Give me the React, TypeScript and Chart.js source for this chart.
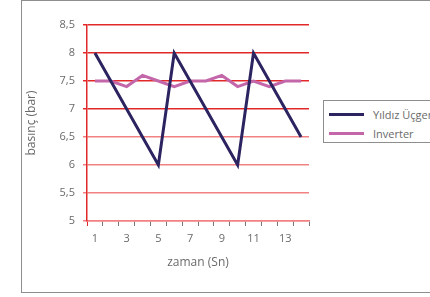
import React, { useEffect, useRef } from "react";
import { Chart, registerables } from "chart.js";

Chart.register(...registerables);

const categories = ["1", "2", "3", "4", "5", "6", "7", "8", "9", "10", "11", "12", "13", "14"];
const yildizUcgen = [8, 7.5, 7, 6.5, 6, 8, 7.5, 7, 6.5, 6, 8, 7.5, 7, 6.5];
const inverter = [7.5, 7.5, 7.4, 7.6, 7.5, 7.4, 7.5, 7.5, 7.6, 7.4, 7.5, 7.4, 7.5, 7.5];
const seriesNames = ["Yıldız Üçgen", "Inverter"];
const seriesColors = ["#2b2460", "#c466aa"];
const yTitle = "basınç (bar)";
const xTitle = "zaman (Sn)";

const FONT = "'Open Sans', sans-serif";
const TEXT = "#6a6a6a";
const RED = "rgb(226,40,40)";
const PINK = "rgb(242,130,130)";

export default function App() {
  const ref = useRef<HTMLCanvasElement | null>(null);
  useEffect(() => {
    document.body.style.margin = "0";
    const ctx = ref.current!;
    const chart = new Chart(ctx, {
      type: "line",
      data: {
        labels: categories,
        datasets: [
          { label: seriesNames[0], data: yildizUcgen, borderColor: seriesColors[0], backgroundColor: seriesColors[0], borderWidth: 3, pointRadius: 0, tension: 0 },
          { label: seriesNames[1], data: inverter, borderColor: seriesColors[1], backgroundColor: seriesColors[1], borderWidth: 3, pointRadius: 0, tension: 0 },
        ],
      },
      options: {
        animation: false,
        responsive: false,
        layout: { padding: { left: 24, top: 25, right: 121, bottom: 23 } },
        plugins: { legend: { display: false }, tooltip: { enabled: false } },
        scales: {
          x: {
            type: "category",
            offset: true,
            afterFit: (s: any) => { s.height = 53; },
            grid: {
              display: true,
              offset: true,
              drawOnChartArea: false,
              drawTicks: true,
              tickLength: 5,
              color: "#777777",
              tickColor: (c: any) => (c.index === 0 ? RED : "#777777"),
              tickWidth: 1,
            },
            border: { display: true, color: PINK, width: 1.5 },
            ticks: {
              autoSkip: false,
              maxRotation: 0,
              padding: 6,
              color: TEXT,
              font: { family: FONT, size: 11 },
              callback: (_v: any, i: number) => (i % 2 === 0 ? categories[i] : ""),
            },
            title: { display: true, text: xTitle, color: TEXT, font: { family: FONT, size: 12 }, padding: { top: 4, bottom: 4 } },
          },
          y: {
            min: 5,
            max: 8.5,
            afterFit: (s: any) => { s.width = 63; },
            grid: {
              display: true,
              color: (c: any) => (c.tick && c.tick.value >= 7 ? RED : PINK),
              tickColor: (c: any) => (c.tick && c.tick.value >= 7 ? RED : PINK),
              tickLength: 4,
              lineWidth: 1.5,
            },
            border: { display: true, color: RED, width: 1.5 },
            ticks: {
              stepSize: 0.5,
              padding: 8,
              color: TEXT,
              font: { family: FONT, size: 11 },
              callback: (v: any) => String(v).replace(".", ","),
            },
            title: { display: true, text: yTitle, color: TEXT, font: { family: FONT, size: 12 }, padding: { top: 0, bottom: 4 } },
          },
        },
      },
    });
    return () => chart.destroy();
  }, []);

  return (
    <div style={{ position: "relative", width: 430, height: 297, overflow: "hidden", background: "#fff" }}>
      <div style={{ position: "absolute", left: 21, top: 0, width: 430, height: 293, border: "1px solid #8e8e8e", boxSizing: "border-box" }} />
      <canvas ref={ref} width={430} height={297} style={{ position: "absolute", left: 0, top: 0 }} />
      <div style={{ position: "absolute", left: 323, top: 100, width: 130, height: 43, border: "1px solid #8e8e8e", boxSizing: "border-box", background: "#fff" }}>
        {seriesNames.map((n, i) => (
          <div key={n} style={{ position: "absolute", left: 0, top: 5 + i * 19, height: 16, display: "flex", alignItems: "center", whiteSpace: "nowrap" }}>
            <span style={{ display: "inline-block", marginLeft: 5, width: 35, height: 3, background: seriesColors[i] }} />
            <span style={{ marginLeft: 9, fontFamily: FONT, fontSize: 11, color: TEXT }}>{n}</span>
          </div>
        ))}
      </div>
    </div>
  );
}
